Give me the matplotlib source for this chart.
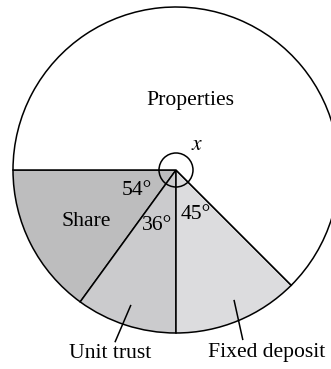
import numpy as np
from matplotlib import pyplot as plt
from matplotlib.patches import Circle

# sectors in degrees, drawn anticlockwise starting from the left horizontal
labels = ['Share', 'Unit trust', 'Fixed deposit', 'Properties']
angles = [54, 36, 45, 225]
angle_text = ['54°', '36°', '45°', '$x$']
colors = ['#bdbdbe', '#cbcbcd', '#dcdcde', '#ffffff']

plt.rcParams['font.family'] = ['Liberation Serif', 'DejaVu Serif']
plt.rcParams['mathtext.fontset'] = 'stix'

fig = plt.figure(figsize=(3.31, 3.69), dpi=100)
ax = fig.add_axes([0, 0, 1, 1])

cx, cy, R = 176, 199, 163
ax.pie(angles, colors=colors, startangle=180, counterclock=True,
       center=(cx, cy), radius=R,
       wedgeprops=dict(edgecolor='black', linewidth=1.1))
ax.add_patch(Circle((cx, cy), 17, fill=False, edgecolor='black', lw=1.1))

def polar(r, a):
    t = np.radians(a)
    return cx + r*np.cos(t), cy + r*np.sin(t)

start = 180
mids = []
for a in angles:
    mids.append(start + a/2)
    start += a

fs = 15.6
# names inside the chart
ax.text(*polar(104, mids[0]+3), labels[0], fontsize=fs, ha='center', va='center')
ax.text(*polar(71, 78), labels[3], fontsize=fs, ha='center', va='center')

# leader lines and outside names
for i, (r_txt, a_txt) in zip([1, 2], [(195, 250.2), (204, 296.5)]):
    x0, y0 = polar(143, mids[i] - 0.5 + (i-1)*2)
    x1, y1 = polar(182, mids[i] - 1.5 + (i-1)*0.5)
    ax.plot([x0, x1], [y0, y1], color='black', lw=1.1)
    ax.text(*polar(r_txt, a_txt), labels[i], fontsize=fs, ha='center', va='center')

# angle labels
ax.text(*polar(44, mids[0] + 1), angle_text[0], fontsize=fs, ha='center', va='center')
ax.text(*polar(59, mids[1] - 1), angle_text[1], fontsize=fs, ha='center', va='center')
ax.text(*polar(49, mids[2] + 1.5), angle_text[2], fontsize=fs, ha='center', va='center')
ax.text(*polar(32, 49), angle_text[3], fontsize=fs, ha='center', va='center')

ax.set_xlim(0, 331)
ax.set_ylim(0, 369)
ax.set_aspect('auto')
ax.axis('off')
fig.savefig('out.png', dpi=100)
